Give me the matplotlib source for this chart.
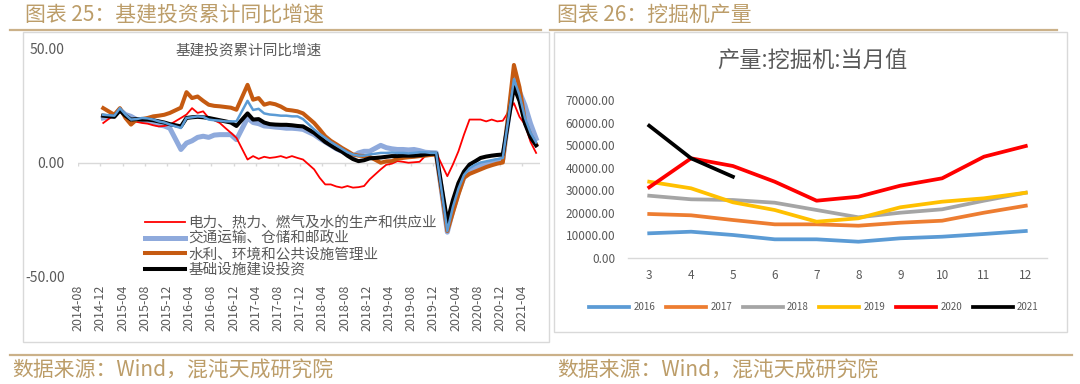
import matplotlib
matplotlib.use('Agg')
import matplotlib.pyplot as plt
from matplotlib.lines import Line2D
from matplotlib.patches import Rectangle
import pandas as pd

plt.rcParams['font.family'] = ['Noto Sans CJK SC', 'DejaVu Sans']

W, H = 1080, 384

# ---------------- 图表25 data (cumulative YoY, %) ----------------
months = [p for p in pd.period_range('2014-12', '2021-06', freq='M') if p.month != 1]
tick_labels = [str(p) for p in pd.period_range('2014-08', '2021-04', freq='M')[::4]]

dianli = [17.3,
          20.9, 23.1, 19.5, 17.3, 17.8, 17.3, 17.0, 16.3, 15.8, 16.0, 16.6,
          19.5, 21.0, 23.8, 21.7, 22.4, 19.5, 18.5, 17.3, 15.1, 13.0, 10.8,
          1.3, 2.8, 1.6, 2.5, 2.0, 2.3, 2.8, 2.0, 2.8, 2.0, 1.3,
          -3.0, -6.7, -9.6, -9.6, -10.5, -11.0, -10.3, -11.0, -10.8, -10.3, -7.4,
          -3.0, -1.0, -0.5, 0.6, 0.3, -0.1, 0.1, 0.3, 2.8, 3.5, 4.2,
          -6.0, -0.9, 4.9, 12.2, 18.8, 18.8, 18.8, 18.0, 18.8, 18.0, 18.3,
          26.0, 20.0, 16.6, 9.0, 4.2]
jiaotong = [19.5,
            20.5, 23.1, 21.0, 20.2, 18.8, 18.5, 18.0, 17.3, 16.5, 16.0, 15.0,
            5.7, 8.5, 9.5, 11.0, 11.5, 11.0, 12.0, 12.2, 12.2, 12.2, 10.0,
            19.5, 17.5, 17.0, 16.0, 15.8, 15.5, 15.3, 15.0, 15.0, 14.8, 14.5,
            12.2, 10.5, 9.0, 7.5, 6.0, 4.9, 3.8, 2.8, 4.2, 4.9, 4.9,
            7.5, 6.5, 6.0, 5.7, 5.7, 5.5, 5.7, 5.2, 4.5, 4.3, 4.2,
            -30.5, -21.0, -13.0, -6.5, -4.0, -2.5, -1.0, -0.5, 0.3, 0.8, 1.3,
            37.0, 31.0, 25.0, 17.0, 10.5]
shuili = [23.8,
          20.9, 23.8, 19.5, 16.6, 18.8, 19.0, 19.5, 20.2, 20.5, 20.9, 21.7,
          24.0, 30.8, 28.2, 28.9, 27.0, 25.3, 24.8, 24.6, 24.3, 24.0, 23.1,
          34.0, 27.5, 28.2, 25.3, 26.0, 25.5, 24.5, 23.1, 22.8, 22.4, 21.5,
          17.3, 14.5, 11.5, 9.5, 8.0, 6.4, 5.0, 3.5, 3.0, 2.8, 2.5,
          -0.1, 0.5, 0.6, 1.6, 2.0, 2.3, 2.5, 2.8, 3.0, 3.3, 3.5,
          -30.0, -22.0, -14.0, -6.7, -5.0, -4.0, -3.0, -2.0, -1.2, -0.5, 0.0,
          42.7, 33.0, 18.0, 12.0, 7.9]
jichu = [20.5,
         20.0, 22.8, 20.5, 18.8, 19.0, 18.8, 18.8, 18.5, 18.0, 17.5, 16.8,
         15.8, 19.5, 19.8, 20.0, 19.8, 19.5, 19.0, 18.5, 18.0, 17.5, 16.0,
         21.5, 18.8, 19.0, 17.5, 16.8, 16.6, 16.5, 16.5, 16.3, 16.0, 15.8,
         13.0, 11.0, 9.0, 7.5, 6.0, 4.8, 3.0, 1.5, 0.6, 1.0, 1.8,
         2.2, 2.5, 2.8, 2.8, 3.0, 3.0, 3.0, 3.2, 3.5, 3.8, 3.8,
         -26.0, -16.5, -9.0, -4.0, -0.9, 0.5, 2.0, 2.6, 3.0, 3.3, 3.5,
         33.0, 27.0, 17.0, 11.0, 7.5]
jichu_b = [20.9,
           20.5, 23.8, 21.0, 18.8, 19.0, 19.5, 19.3, 18.8, 18.0, 17.5, 16.6,
           15.1, 19.5, 19.8, 20.2, 20.0, 18.8, 18.5, 18.3, 18.0, 18.0, 18.0,
           27.0, 23.0, 23.5, 21.5, 21.0, 20.8, 20.5, 20.5, 20.2, 20.2, 19.0,
           14.5, 12.5, 10.8, 9.0, 7.5, 6.0, 4.5, 3.5, 3.0, 3.0, 3.5,
           4.2, 4.2, 4.4, 4.2, 4.2, 4.0, 4.2, 4.5, 4.5, 4.2, 4.2,
           -30.0, -19.5, -11.5, -5.5, -2.5, -1.0, 0.0, 0.5, 1.0, 1.5, 2.0,
           36.5, 29.5, 19.5, 13.0, 8.8]

# ---------------- 图表26 data (units) ----------------
ex_months = [3, 4, 5, 6, 7, 8, 9, 10, 11, 12]
ex_2016 = [10830, 11540, 10080, 8160, 8160, 7100, 8610, 9320, 10520, 11850]
ex_2017 = [19400, 18820, 16730, 14810, 14810, 14200, 15540, 16420, 19970, 23080]
ex_2018 = [27520, 25920, 25610, 24410, 21170, 17930, 19970, 21480, 25300, 28850]
ex_2019 = [33730, 30800, 24590, 21170, 15980, 17490, 22370, 24860, 26360, 28850]
ex_2020 = [31250, 44120, 40700, 33730, 25300, 27080, 31960, 35240, 44830, 49580]
ex_2021 = [58590, 44120, 35950]

TAN = '#BC9D69'
TANLINE = '#CBB189'
GRAY = '#595959'
BORDER = '#D9D9D9'


def fx(px):
    return px / W


def fy(py):
    return 1 - py / H


fig = plt.figure(figsize=(W / 100, H / 100), dpi=100)

# frames, rules and captions
fig.add_artist(Rectangle((fx(22.5), fy(341.5)), fx(549) - fx(22.5), fy(31.5) - fy(341.5),
                         fill=False, edgecolor=BORDER, linewidth=1.0))
fig.add_artist(Rectangle((fx(553.5), fy(331.5)), fx(1067) - fx(553.5), fy(31.5) - fy(331.5),
                         fill=False, edgecolor=BORDER, linewidth=1.0))
fig.add_artist(Line2D([fx(10), fx(541)], [fy(29.5), fy(29.5)], color=TANLINE, lw=1.6))
fig.add_artist(Line2D([fx(550), fx(1057)], [fy(29.5), fy(29.5)], color=TANLINE, lw=1.6))
fig.add_artist(Line2D([fx(10), fx(1072)], [fy(355), fy(355)], color=TANLINE, lw=1.6))
fig.text(fx(25), fy(15), '图表 25：基建投资累计同比增速', color=TAN, fontsize=15, va='center')
fig.text(fx(557), fy(15), '图表 26：挖掘机产量', color=TAN, fontsize=15, va='center')
fig.text(fx(12), fy(371), '数据来源：Wind，混沌天成研究院', color=TAN, fontsize=15, va='center')
fig.text(fx(557), fy(371), '数据来源：Wind，混沌天成研究院', color=TAN, fontsize=15, va='center')

# ---------------- left chart ----------------
ax = fig.add_axes([fx(78), fy(276.7), fx(540) - fx(78), fy(48.3) - fy(276.7)])
xm = [(p.year - 2014) * 12 + p.month - 8 for p in months]
tick_pos = [i * 4 - 0.5 for i in range(len(tick_labels))]

ax.axhline(0, color=BORDER, lw=1.0, zorder=0)
ax.vlines(tick_pos, -1.5, 0, color=BORDER, lw=1.0, zorder=0)

l_jt, = ax.plot(xm, jiaotong, color='#8FAADC', lw=3.6, zorder=1, solid_joinstyle='round')
l_dl, = ax.plot(xm, dianli, color='#FF0000', lw=1.3, zorder=2)
l_sl, = ax.plot(xm, shuili, color='#C55A11', lw=2.9, zorder=3)
l_jc, = ax.plot(xm, jichu, color='#000000', lw=2.9, zorder=4)
ax.plot(xm, jichu_b, color='#5B9BD5', lw=1.8, zorder=5)

ax.set_xlim(-0.55, 82.7)
ax.set_ylim(-50, 50)
ax.set_yticks([-50, 0, 50])
ax.set_yticklabels([f'{v:.2f}' for v in (-50, 0, 50)])
ax.set_xticks(tick_pos)
ax.set_xticklabels(tick_labels, rotation=90, va='top', ha='center')
ax.tick_params(axis='x', length=0, pad=6, labelsize=9, labelcolor=GRAY)
ax.tick_params(axis='y', length=0, pad=9.5, labelsize=10, labelcolor=GRAY)
for s in ax.spines.values():
    s.set_visible(False)
ax.patch.set_alpha(0)
ax.text(fx(249), fy(50), '基建投资累计同比增速', transform=fig.transFigure,
        ha='center', va='center', fontsize=10.5, color=GRAY)

fig.legend([l_dl, l_jt, l_sl, l_jc],
           ['电力、热力、燃气及水的生产和供应业', '交通运输、仓储和邮政业',
            '水利、环境和公共设施管理业', '基础设施建设投资'],
           loc='upper left', bbox_to_anchor=(fx(145), fy(216)), frameon=False,
           fontsize=10.5, labelcolor=GRAY, handlelength=2.75, handletextpad=0.2,
           labelspacing=0.1, borderpad=0, borderaxespad=0)

# ---------------- right chart ----------------
ax2 = fig.add_axes([fx(628.3), fy(257.7), fx(1046.7) - fx(628.3), fy(100) - fy(257.7)])
lw2 = 2.7
ax2.plot(ex_months, ex_2016, color='#5B9BD5', lw=lw2, label='2016')
ax2.plot(ex_months, ex_2017, color='#ED7D31', lw=lw2, label='2017')
ax2.plot(ex_months, ex_2018, color='#A5A5A5', lw=lw2, label='2018')
ax2.plot(ex_months, ex_2019, color='#FFC000', lw=lw2, label='2019')
ax2.plot(ex_months, ex_2020, color='#FF0000', lw=lw2, label='2020')
ax2.plot(ex_months[:len(ex_2021)], ex_2021, color='#000000', lw=lw2, label='2021')

ax2.set_xlim(2.5, 12.5)
ax2.set_ylim(0, 70000)
ax2.set_yticks(range(0, 70001, 10000))
ax2.set_yticklabels([f'{v:.2f}' for v in range(0, 70001, 10000)])
ax2.set_xticks(ex_months)
ax2.tick_params(axis='x', length=0, pad=8, labelsize=8.5, labelcolor=GRAY)
ax2.tick_params(axis='y', length=0, pad=9.5, labelsize=8.5, labelcolor=GRAY)
for k, s in ax2.spines.items():
    s.set_visible(k == 'bottom')
ax2.spines['bottom'].set_color(BORDER)
ax2.spines['bottom'].set_linewidth(1.0)
ax2.patch.set_alpha(0)
fig.text(fx(812), fy(60), '产量:挖掘机:当月值', ha='center', va='center', fontsize=16, color=GRAY)

ax2.legend(loc='center', bbox_to_anchor=(fx(814), fy(307.3)), bbox_transform=fig.transFigure,
           ncol=6, frameon=False, fontsize=7, labelcolor=GRAY, handlelength=4.1,
           handletextpad=0.45, columnspacing=1.1, borderpad=0)

fig.savefig('out.png', dpi=100)
